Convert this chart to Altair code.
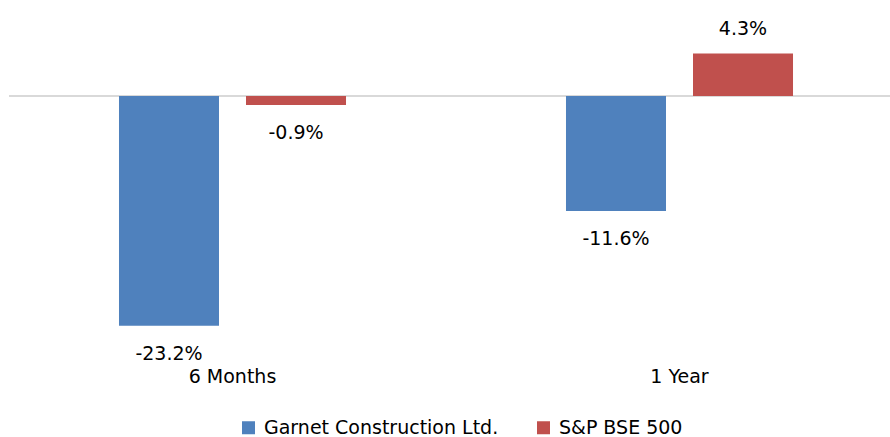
import altair as alt
import pandas as pd

periods = ["6 Months", "6 Months", "1 Year", "1 Year"]
series = ["Garnet Construction Ltd.", "S&P BSE 500", "Garnet Construction Ltd.", "S&P BSE 500"]
values = [-23.2, -0.9, -11.6, 4.3]
labels = ["-23.2%", "-0.9%", "-11.6%", "4.3%"]

period_order = ["6 Months", "1 Year"]
series_order = ["Garnet Construction Ltd.", "S&P BSE 500"]
colors = ["#4f81bd", "#c0504d"]

df = pd.DataFrame({"period": periods, "series": series, "value": values, "label": labels})

FONT = "DejaVu Sans"
FS = 19

x_enc = alt.X("period:N", sort=period_order, title=None,
              scale=alt.Scale(range=[0, 894], paddingInner=0, paddingOuter=0),
              axis=alt.Axis(domain=False, ticks=False, labelAngle=0, labelFont=FONT,
                            labelFontSize=FS, labelColor="#000000", labelPadding=7,
                            grid=False))
xo_enc = alt.XOffset("series:N", sort=series_order,
                     scale=alt.Scale(paddingInner=0.2126, paddingOuter=0.866))
y_scale = alt.Scale(domain=[-26.65, 9.69], nice=False, zero=False)
y_enc = alt.Y("value:Q", scale=y_scale, axis=None)

base = alt.Chart(df)

bars = base.mark_bar().encode(
    x=x_enc, xOffset=xo_enc, y=y_enc, y2=alt.datum(0),
    color=alt.Color("series:N", sort=series_order,
                    scale=alt.Scale(domain=series_order, range=colors),
                    legend=alt.Legend(title=None, orient="none", direction="horizontal",
                                      legendX=230, legendY=418,
                                      symbolType="square", symbolSize=169,
                                      symbolStrokeWidth=0, labelFont=FONT,
                                      labelFontSize=FS, labelColor="#000000",
                                      labelLimit=0,
                                      columnPadding=35, labelOffset=6)),
)

zero_rule = alt.Chart(pd.DataFrame({"z": [0]})).mark_rule(color="#d9d9d9", strokeWidth=2).encode(
    y=alt.Y("z:Q", scale=y_scale, axis=None),
    x=alt.value(0), x2=alt.value(881),
)

neg_text = base.transform_filter(alt.datum.value < 0).mark_text(
    font=FONT, fontSize=FS, color="#000000", baseline="alphabetic", dy=34
).encode(x=x_enc, xOffset=xo_enc, y=y_enc, text="label:N")

pos_text = base.transform_filter(alt.datum.value >= 0).mark_text(
    font=FONT, fontSize=FS, color="#000000", baseline="alphabetic", dy=-18
).encode(x=x_enc, xOffset=xo_enc, y=y_enc, text="label:N")

chart = alt.layer(zero_rule, bars, neg_text, pos_text).properties(
    width=881, height=360,
    autosize=alt.AutoSizeParams(type="none"),
    padding={"left": 9, "top": 0, "right": 0, "bottom": 77},
    background="white",
).configure_view(strokeWidth=0, stroke=None)

chart.save("out.html", embed_options={"renderer": "svg", "actions": False})
